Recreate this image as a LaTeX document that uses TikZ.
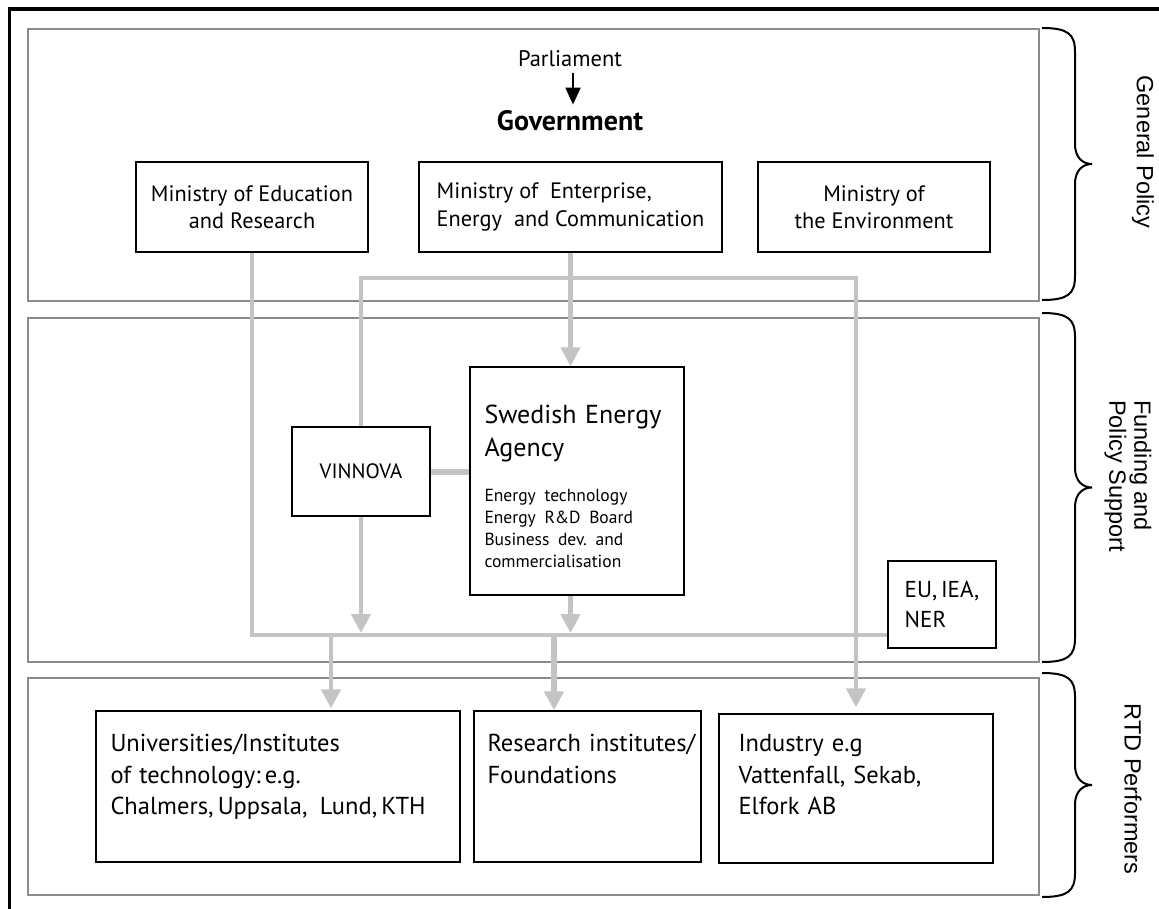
\documentclass[tikz,border=0pt]{standalone}
\usepackage{fontspec}
\setmainfont{PT Sans}
\newfontfamily\sidefont{Liberation Sans}
\usetikzlibrary{arrows.meta}
\definecolor{linkgray}{RGB}{196,196,196}
\definecolor{bandgray}{RGB}{140,140,140}
\tikzstyle{band} = [draw=bandgray, line width=1.4pt, inner sep=0pt]
\tikzstyle{box} = [draw=black, line width=1.4pt, inner sep=0pt, align=center,
font=\fontsize{22.3}{27.5}\selectfont]
\tikzstyle{boxtext} = [inner sep=0pt, anchor=north west, align=left,
font=\fontsize{24.5}{31.5}\selectfont]
\tikzstyle{link} = [draw=linkgray, line width=4.5pt]
\tikzstyle{flow} = [link, -{Triangle[width=19pt,length=19pt]}]
\tikzstyle{govarrow} = [draw=black, line width=2pt, -{Triangle[width=15pt,length=17pt]}]
\tikzstyle{bracket} = [draw=black, line width=2pt]
\tikzstyle{side} = [font=\sidefont\fontsize{23.5}{25}\selectfont, rotate=-90,
align=left, inner sep=0pt]
\newcommand{\agencytext}{Swedish Energy\\Agency\par
  \vspace{23pt}{\fontsize{17.5}{22}\selectfont Energy technology\\Energy R\&D Board\\
  Business dev.\ and\\commercialisation\par}}
\newcommand{\sidebrace}[2]{ %
  % brace beside a band, from y=#1 down to y=#2
  \pgfmathsetmacro{\bmid}{(#1+#2)/2}
  \draw[bracket] (1042,#1) .. controls (1068,#1) and (1075,#1+6) .. (1075,#1+24)
    -- (1075,\bmid-20) .. controls (1075,\bmid-5) and (1084,\bmid) .. (1092,\bmid)
    .. controls (1084,\bmid) and (1075,\bmid+5) .. (1075,\bmid+20)
    -- (1075,#2-24) .. controls (1075,#2-6) and (1068,#2) .. (1042,#2);
}

\begin{document}
\begin{tikzpicture}[x=1pt, y=-1pt]
  \useasboundingbox (0,0) rectangle (1159,909);
  \draw[line width=3.5pt] (9.5,909) -- (9.5,9) -- (1159,9);

  % bands
  \node[band, minimum width=1011pt, minimum height=272pt](gp) at (533.5,165) {};
  \node[band, minimum width=1011pt, minimum height=344pt](fp) at (533.5,490) {};
  \node[band, minimum width=1011pt, minimum height=217pt](rtd) at (533.5,786.5) {};
  \sidebrace{28}{300}
  \sidebrace{313}{662}
  \sidebrace{673}{897}
  \node[side](gptext) at (1143,152) {General Policy};
  \node[side](fptext) at (1128,476) {Funding and\\Policy Support};
  \node[side](rtdtext) at (1133,789) {RTD Performers};

  % general policy
  \node[inner sep=0pt, font=\fontsize{22.5}{22.5}\selectfont](parl) at (570,59) {Parliament};
  \node[inner sep=0pt, font=\fontsize{28}{28}\selectfont\bfseries](gov) at (570,121) {Government};
  \draw[govarrow, shorten <=6pt, shorten >=6pt] ([xshift=3pt]parl.south) -- ([xshift=3pt]gov.north);
  \node[box, minimum width=232pt, minimum height=90pt](edu) at (252,207)
    {Ministry of Education\\and Research};
  \node[box, align=left, minimum width=303pt, minimum height=90pt](ent) at (570.5,207)
    {Ministry of\ \ Enterprise,\\Energy\ \ and Communication};
  \node[box, minimum width=232pt, minimum height=90pt](env) at (874,207)
    {Ministry of\\the Environment};

  % funding and policy support
  \node[box, font=\fontsize{20.8}{20.8}\selectfont, minimum width=138pt, minimum height=89pt](vin)
    at (361,471.5) {VINNOVA};
  \node[box, minimum width=214pt, minimum height=228pt,
    label={[boxtext, text width=195pt, xshift=15pt, yshift=-38pt,
      font=\fontsize{26}{33}\selectfont]north west:{\agencytext}}](agency) at (577,481) {};
  \node[box, align=left, font=\fontsize{23}{30}\selectfont, minimum width=108pt,
    minimum height=87pt](eu) at (942,604.5) {EU,\,IEA,\\NER};

  % rtd performers
  \node[box, minimum width=364pt, minimum height=151pt,
    label={[boxtext, text width=340pt, xshift=15pt, yshift=-24pt]north west:
      {Universities/Institutes\\of technology:\,e.g.\\Chalmers,\,Uppsala,\ \,Lund,\,KTH}}]
    (uni) at (278,786.5) {};
  \node[box, minimum width=227pt, minimum height=151pt,
    label={[boxtext, text width=210pt, xshift=14pt, yshift=-24pt]north west:
      {Research institutes/\\Foundations}}]
    (res) at (587.5,786.5) {};
  \node[box, minimum width=274pt, minimum height=149pt,
    label={[boxtext, text width=250pt, xshift=20pt, yshift=-21pt]north west:
      {Industry e.g\\Vattenfall, Sekab,\\Elfork AB}}]
    (ind) at (856,788.5) {};

  % links
  \coordinate (bar) at (570.5,278);
  \coordinate (dropU) at (331,635);
  \coordinate (dropR) at (554,635);
  \draw[link] (edu.south) |- ([yshift=-30.5pt]eu.west);
  \draw[flow] (ent.south) -- (ent.south |- agency.north);
  \draw[flow, shorten >=6pt] (vin.north) |- (bar) -| (ind.north);
  \draw[link, line width=6pt] (vin.east) -- (vin.east -| agency.west);
  \draw[flow, shorten >=2pt] (vin.south) -- (vin.south |- dropU);
  \draw[flow, shorten >=2pt] (agency.south -| ent.south) -- (ent.south |- dropU);
  \draw[flow, shorten >=2pt] (dropU) -- (dropU |- uni.north);
  \draw[flow, line width=6pt] (dropR) -- (dropR |- res.north);
\end{tikzpicture}
\end{document}
